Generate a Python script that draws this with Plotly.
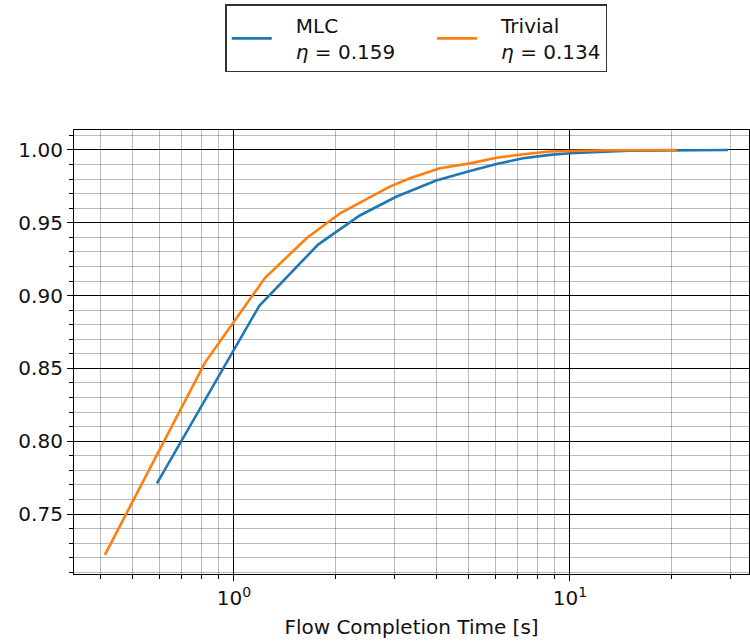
import plotly.graph_objects as go

mlc_x = [0.59, 1.19, 1.78, 2.37, 3.05, 4.0, 5.04, 6.05, 7.26, 8.72, 10.0, 12.0, 15.0, 29.5]
mlc_y = [0.771, 0.893, 0.935, 0.955, 0.968, 0.979, 0.9856, 0.9904, 0.9943, 0.9966, 0.9977, 0.9987, 0.9995, 1.0]
triv_x = [0.413, 0.82, 1.236, 1.645, 2.07, 2.91, 3.34, 4.1, 5.04, 6.05, 7.26, 8.72, 10.5, 13.0, 20.8]
triv_y = [0.722, 0.854, 0.912, 0.9394, 0.9565, 0.9748, 0.9806, 0.9874, 0.9908, 0.9947, 0.997, 0.9989, 0.9994, 0.9998, 1.0]
pad = "&nbsp;" * 3
tail = "&nbsp;" * 5
names = [pad + "MLC<br>" + pad + "<i>η</i> = 0.159" + tail, pad + "Trivial<br>" + pad + "<i>η</i> = 0.134"]
colors = ["#1f77b4", "#ff7f0e"]
y_ticks = [0.75, 0.80, 0.85, 0.90, 0.95, 1.00]
x_ticks = [1, 10]
x_ticktext = ["10<sup>0</sup>", "10<sup>1</sup>"]

fig = go.Figure()
for xs, ys, nm, c in [(mlc_x, mlc_y, names[0], colors[0]), (triv_x, triv_y, names[1], colors[1])]:
    fig.add_trace(go.Scatter(x=xs, y=ys, mode="lines", name=nm,
                             line=dict(color=c, width=2.6)))

font = dict(family="DejaVu Sans", size=20, color="#111")
fig.update_layout(
    width=750, height=643,
    margin=dict(l=74, r=1, t=130, b=69),
    paper_bgcolor="white", plot_bgcolor="white",
    font=font,
    showlegend=True,
    legend=dict(orientation="h", x=0.507, xanchor="center", y=1.283, yanchor="top",
                bordercolor="#333", borderwidth=1.5, font=dict(family="DejaVu Sans", size=20, color="#111"),
                itemwidth=40, tracegroupgap=0),
)
fig.update_xaxes(
    type="log", range=[-0.476, 1.533],
    tickvals=x_ticks, ticktext=x_ticktext,
    ticks="outside", ticklen=6, tickwidth=1, tickcolor="black",
    showline=True, linecolor="black", linewidth=1.2, mirror=True,
    showgrid=True, gridcolor="black", gridwidth=0.9,
    minor=dict(tickvals=[0.4,0.5,0.6,0.7,0.8,0.9,2,3,4,5,6,7,8,9,20,30], ticks="outside", ticklen=3.5, tickcolor="black",
               showgrid=True, gridcolor="rgba(0,0,0,0.27)", gridwidth=0.6),
    title=dict(text="Flow Completion Time [s]", standoff=10, font=font),
    zeroline=False,
)
minor_y = [round(0.71 + 0.01 * i, 2) for i in range(31)]
fig.update_yaxes(
    range=[0.7088, 1.0137],
    tickvals=y_ticks, tickformat=".2f",
    ticks="outside", ticklen=6, tickwidth=1, tickcolor="black",
    showline=True, linecolor="black", linewidth=1.2, mirror=True,
    showgrid=True, gridcolor="black", gridwidth=0.9,
    minor=dict(tickvals=minor_y, ticks="outside", ticklen=3.5, tickcolor="black",
               showgrid=True, gridcolor="rgba(0,0,0,0.27)", gridwidth=0.6),
    zeroline=False,
)
fig.write_html("out.html")
